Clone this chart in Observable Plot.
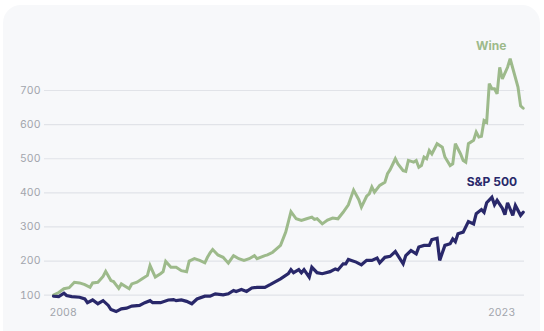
<!DOCTYPE html>
<html>
<head>
<meta charset="utf-8">
<script src="https://cdn.jsdelivr.net/npm/d3@7"></script>
<script src="https://cdn.jsdelivr.net/npm/@observablehq/plot@0.6"></script>
<style>
  html, body { margin: 0; padding: 0; background: #ffffff; width: 544px; height: 331px; overflow: hidden; }
  #card { position: absolute; left: 3px; top: 5px; width: 537px; height: 360px; background: #f7f8fa; border-radius: 18px; }
  #chart { position: absolute; left: 0; top: 0; }
  svg { font-family: Inter, "Noto Sans", sans-serif; }
</style>
</head>
<body>
<div id="card"></div>
<div id="chart"></div>
<script>
// Months since Jan 2008 and index values (base 100)
const wineMonths = [0,2,4,6,8,10,12,14,15,17,19,20,22,23,25,26,29,30,32,34,36,37,39,41,42,43,45,47,49,51,52,54,56,58,59,60,61,63,65,67,69,71,73,75,77,78,81,82,84,87,89,91,93,95,97,99,100,101,103,105,107,109,111,113,115,117,118,120,121,122,123,125,127,128,129,131,132,134,135,136,138,139,140,141,142,143,144,145,147,149,150,152,153,154,156,157,158,159,161,162,163,164,165,166,167,168,169,170,171,172,174,175,178,179,180];
const wineValues = [100,108,119,122,138,136,131,123,136,138,155,170,143,140,120,133,119,133,138,148,158,187,153,163,169,199,182,182,172,169,200,207,202,195,211,224,234,218,211,194,216,207,202,207,216,207,216,218,226,246,285,345,324,319,324,329,322,324,309,320,326,324,343,365,408,380,358,390,397,417,402,422,431,456,468,500,485,465,463,495,490,495,475,480,505,500,524,514,544,534,505,480,485,544,514,495,490,544,554,578,564,566,612,607,720,705,705,690,768,734,768,793,710,655,648];

const spMonths = [0,2,4,5,7,10,12,13,15,17,19,21,22,24,26,28,30,33,35,37,38,41,44,46,47,49,51,53,55,58,60,62,65,67,69,70,72,74,76,78,81,83,87,90,91,92,94,95,96,98,99,101,103,106,108,109,111,112,113,116,118,120,122,124,125,127,129,131,132,134,135,137,139,140,142,144,145,147,148,150,152,153,154,155,157,159,161,162,164,165,166,168,169,170,172,173,174,176,177,179,180];
const spValues = [97,96,106,99,96,94,89,78,86,75,84,70,58,52,60,62,68,70,78,84,78,78,86,87,84,86,82,75,89,97,97,104,101,104,114,111,117,111,121,123,123,131,148,163,175,166,175,166,175,153,182,166,163,169,177,174,192,192,205,197,189,202,202,209,195,211,214,228,216,192,216,231,221,241,246,246,263,267,202,246,251,265,257,280,285,316,309,339,351,343,371,387,365,378,355,336,371,334,363,334,343];

const seriesNames = ["Wine", "S&P 500"];
const seriesColors = ["#9dba8b", "#29286a"];

const yTicks = [100, 200, 300, 400, 500, 600, 700];
const xTickMonths = [0, 180];
const xTickLabels = ["2008", "2023"];

const wine = wineMonths.map((m, i) => ({series: seriesNames[0], month: m, value: wineValues[i]}));
const sp = spMonths.map((m, i) => ({series: seriesNames[1], month: m, value: spValues[i]}));

const chart = Plot.plot({
  width: 544,
  height: 331,
  marginLeft: 44,
  marginRight: 20,
  marginTop: 20,
  marginBottom: 31,
  style: {background: "transparent", fontFamily: "Inter, 'Noto Sans', sans-serif", fontSize: "10.5px"},
  x: {domain: [0, 180], range: [53, 522.7]},
  y: {domain: [100, 700], range: [294.7, 90]},
  color: {domain: seriesNames, range: seriesColors},
  marks: [
    Plot.gridY(yTicks, {stroke: "#e1e3e8", strokeOpacity: 1, strokeWidth: 1.2}),
    Plot.axisY(yTicks, {tickSize: 0, tickPadding: 4, color: "#a2a5ac", label: null}),
    Plot.axisX([xTickMonths[0]], {tickSize: 0, tickPadding: 8, textAnchor: "start", dx: -4, color: "#a2a5ac", label: null, tickFormat: () => xTickLabels[0]}),
    Plot.axisX([xTickMonths[1]], {tickSize: 0, tickPadding: 8, textAnchor: "end", dx: -8, color: "#a2a5ac", label: null, tickFormat: () => xTickLabels[1]}),
    Plot.line(wine, {x: "month", y: "value", stroke: seriesColors[0], strokeWidth: 3, strokeLinejoin: "miter", strokeMiterlimit: 3}),
    Plot.line(sp, {x: "month", y: "value", stroke: seriesColors[1], strokeWidth: 3.2, strokeLinejoin: "miter", strokeMiterlimit: 3}),
    Plot.text(wine, Plot.selectMaxY({x: "month", y: "value", text: "series", fill: seriesColors[0], fontWeight: 700, fontSize: 12, dx: -19, dy: -13})),
    Plot.text(sp, Plot.selectMaxY({x: "month", y: "value", text: "series", fill: seriesColors[1], fontWeight: 700, fontSize: 12, dx: 0, dy: -15}))
  ]
});
document.getElementById("chart").appendChild(chart);
</script>
</body>
</html>
